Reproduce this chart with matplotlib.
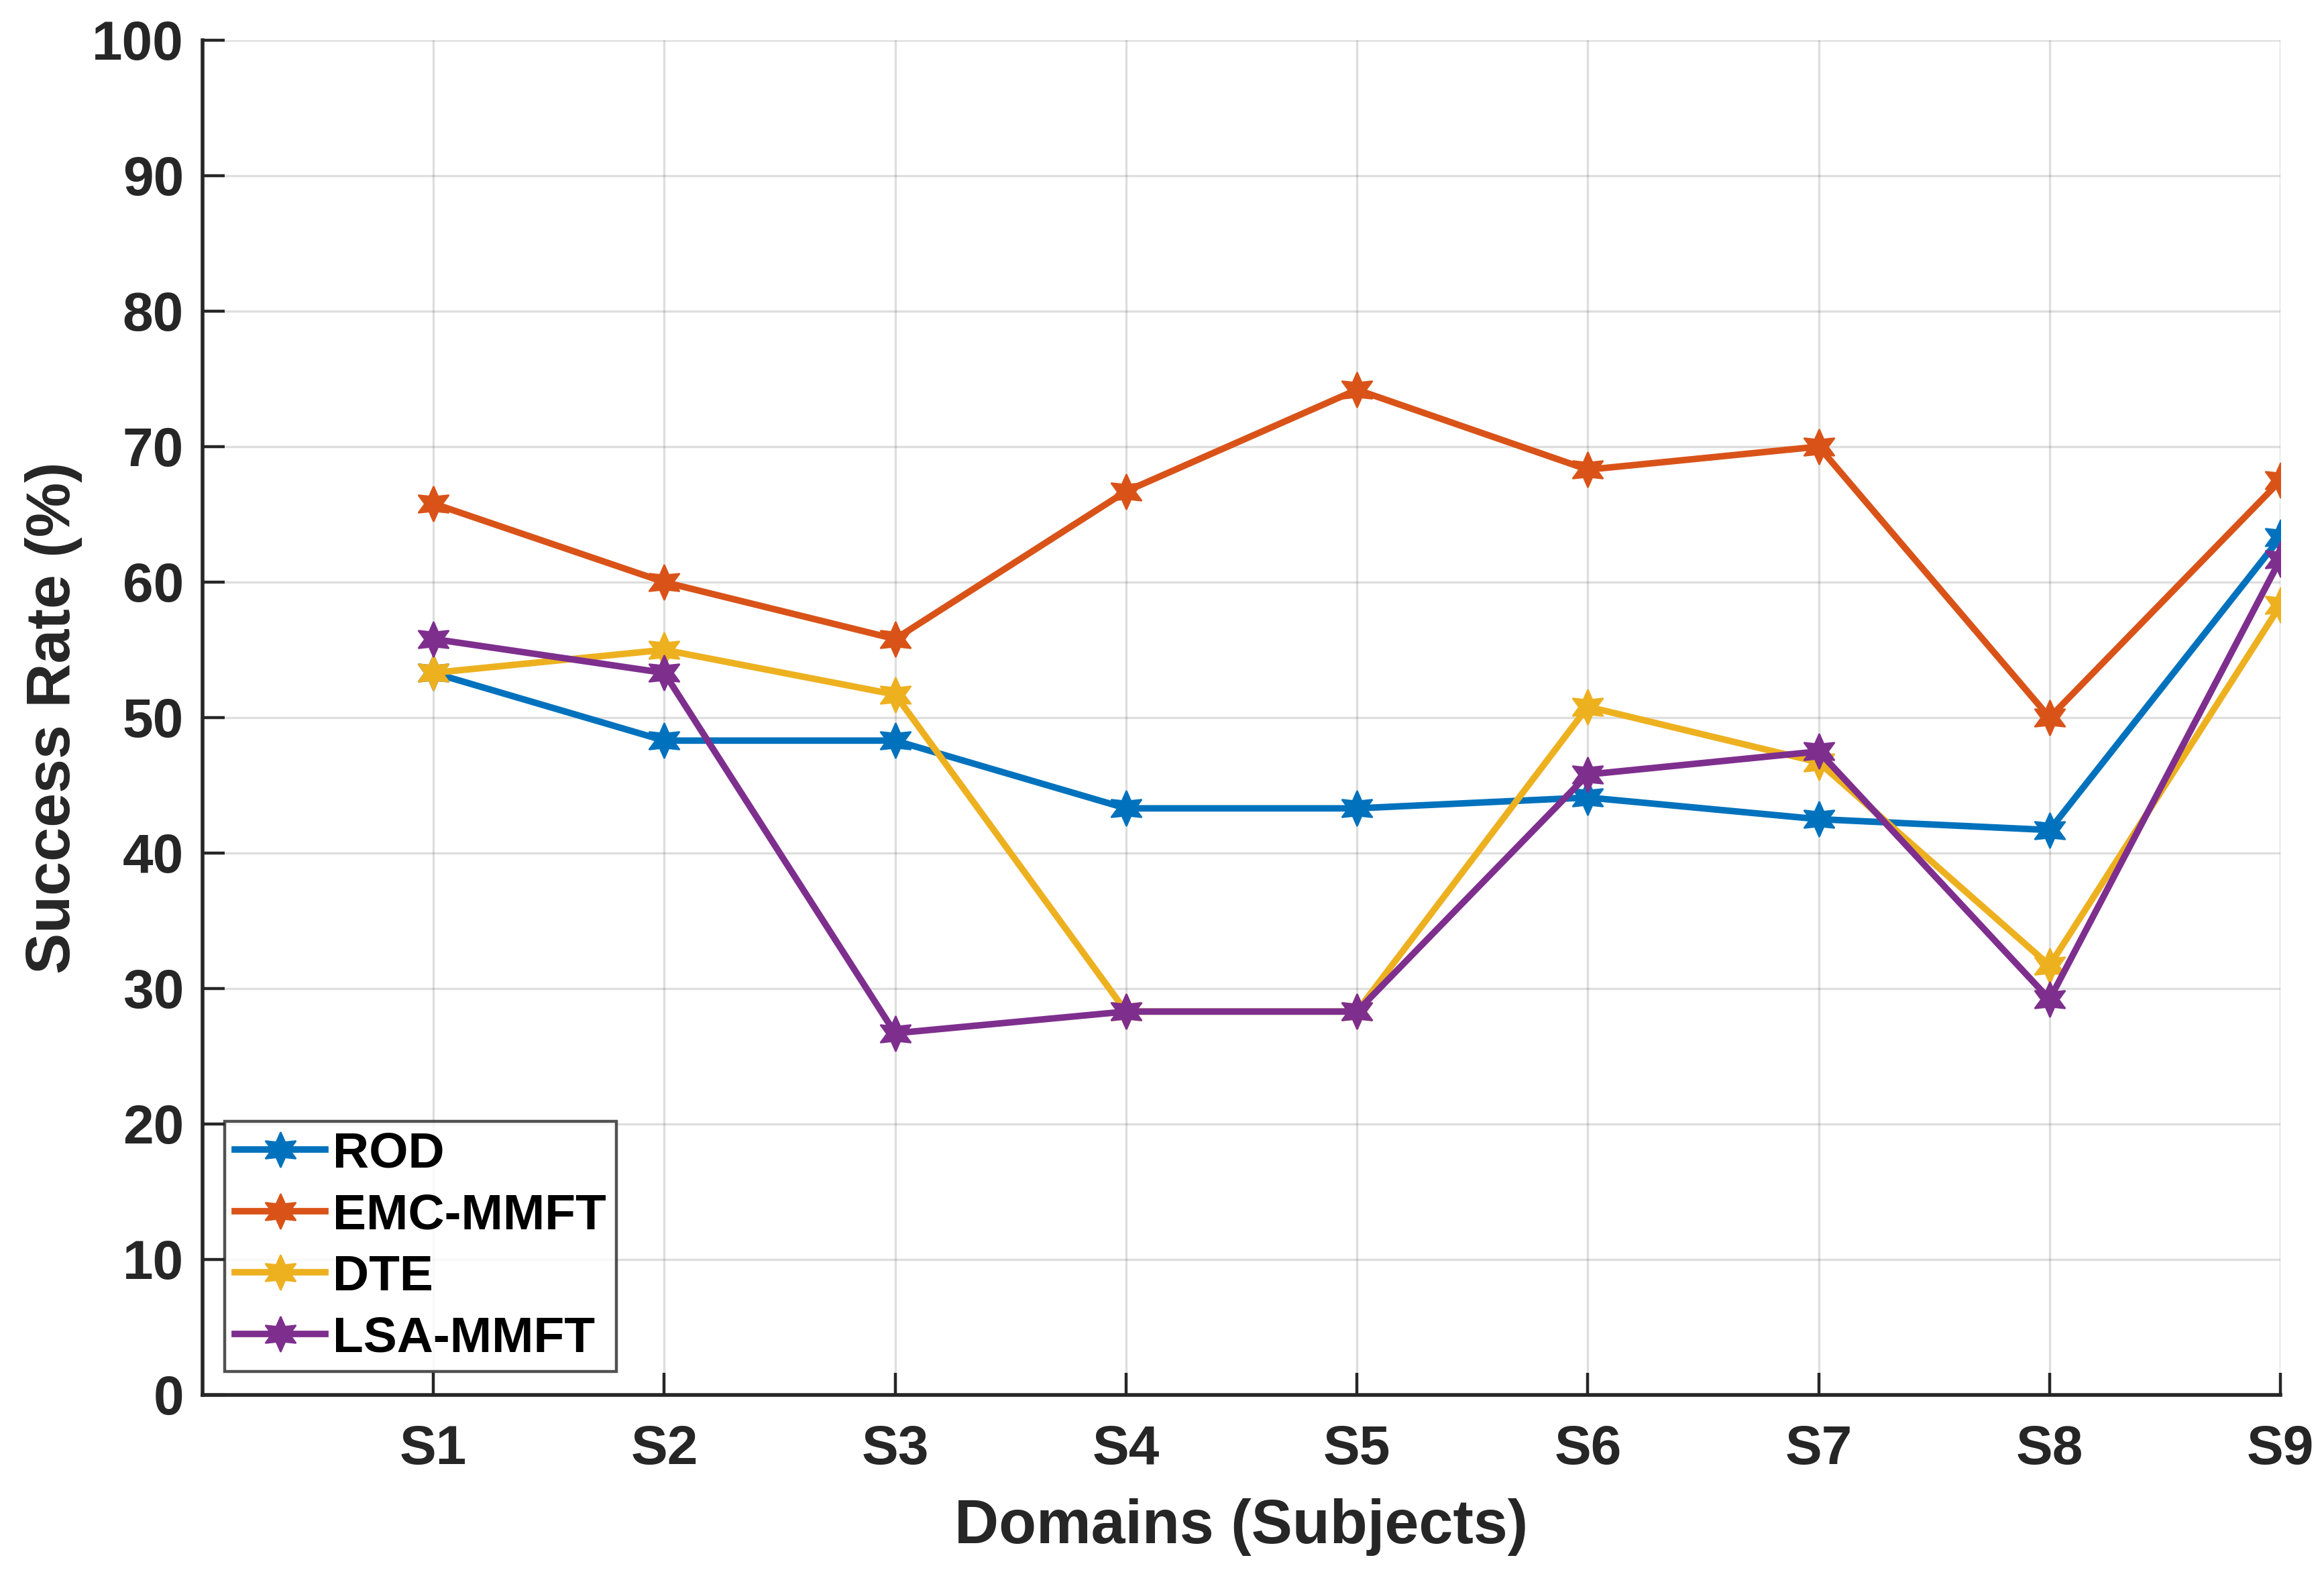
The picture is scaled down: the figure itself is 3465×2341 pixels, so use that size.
import matplotlib
matplotlib.use("Agg")
import matplotlib.pyplot as plt
import numpy as np

# data
subjects = ["S1", "S2", "S3", "S4", "S5", "S6", "S7", "S8", "S9"]
rod = [53.3, 48.3, 48.3, 43.3, 43.3, 44.1, 42.5, 41.7, 63.3]
emc_mmft = [65.8, 60.0, 55.8, 66.7, 74.2, 68.3, 70.0, 50.0, 67.5]
dte = [53.3, 55.0, 51.7, 28.3, 28.3, 50.8, 46.7, 31.7, 58.3]
lsa_mmft = [55.8, 53.3, 26.7, 28.3, 28.3, 45.8, 47.5, 29.2, 61.7]

series_names = ["ROD", "EMC-MMFT", "DTE", "LSA-MMFT"]
series_colors = ["#0072BD", "#D95319", "#EDB120", "#7E2F8E"]

plt.rcParams['font.family'] = ['Liberation Sans', 'DejaVu Sans']
plt.rcParams['font.weight'] = 'bold'

fig = plt.figure(figsize=(17.33, 11.705), dpi=200)
ax = fig.add_axes([0.0871, 0.1115, 0.8939, 0.8629])

x = np.arange(1, len(subjects) + 1)
hexagram = (6, 1, 0)
for vals, name, col in zip([rod, emc_mmft, dte, lsa_mmft], series_names, series_colors):
    ax.plot(x, vals, color=col, linewidth=3.5, marker=hexagram, markersize=19,
            markeredgewidth=0.8, label=name)

ax.set_xlim(0, 9)
ax.set_ylim(0, 100)
ax.set_xticks(x)
ax.set_xticklabels(subjects)
ax.set_yticks(np.arange(0, 101, 10))

ax.grid(True, color='#262626', alpha=0.15, linewidth=1.2)
ax.set_axisbelow(True)

for side in ['top', 'right']:
    ax.spines[side].set_visible(False)
for side in ['left', 'bottom']:
    ax.spines[side].set_linewidth(2.0)
    ax.spines[side].set_color('#262626')

ax.tick_params(axis='both', direction='in', length=12, width=1.6, colors='#262626',
               labelsize=29.5)
ax.tick_params(axis='x', pad=16)
ax.tick_params(axis='y', pad=10)
for lbl in ax.get_xticklabels() + ax.get_yticklabels():
    lbl.set_fontweight('bold')

ax.set_xlabel('Domains (Subjects)', fontsize=33, fontweight='bold', color='#262626', labelpad=12)
ax.set_ylabel('Success Rate (%)', fontsize=33, fontweight='bold', color='#262626', labelpad=5)

leg = ax.legend(loc='lower left', bbox_to_anchor=(0.0107, 0.0173), borderaxespad=0,
                fontsize=27, frameon=True, fancybox=False, handlelength=1.8,
                handletextpad=0.15, labelspacing=0.3, borderpad=0.2)
leg.get_frame().set_edgecolor('#262626')
leg.get_frame().set_linewidth(1.6)
for t in leg.get_texts():
    t.set_fontweight('bold')
    t.set_color('black')

fig.savefig('out.png', dpi=200)
